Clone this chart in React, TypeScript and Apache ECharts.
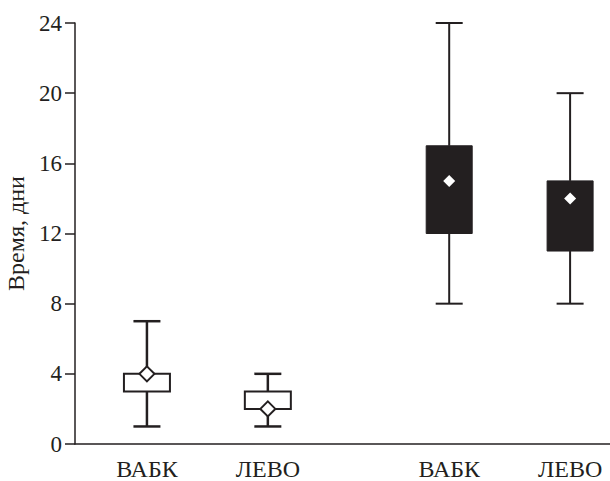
import React, { useEffect, useRef } from "react";
import * as echarts from "echarts";

const categories = ["ВАБК", "ЛЕВО", "ВАБК", "ЛЕВО"];
const positions = [1, 2, 3.5, 4.5];
const whiskerLow = [1, 1, 8, 8];
const boxLow = [3, 2, 12, 11];
const boxHigh = [4, 3, 17, 15];
const whiskerHigh = [7, 4, 24, 20];
const means = [4, 2, 15, 14];
const filled = [0, 0, 1, 1];
const yTicks = [0, 4, 8, 12, 16, 20, 24];

const INK = "#231f20";
const FONT = "'Liberation Serif', 'Times New Roman', serif";

export default function App() {
  const ref = useRef<HTMLDivElement>(null);

  useEffect(() => {
    if (!ref.current) return;
    const chart = echarts.init(ref.current, undefined, { renderer: "svg" });

    const data = positions.map((p, i) => [
      p,
      whiskerLow[i],
      boxLow[i],
      boxHigh[i],
      whiskerHigh[i],
      means[i],
      filled[i],
    ]);

    const renderItem = (params: any, api: any) => {
      const x = api.value(0);
      const lo = api.coord([x, api.value(1)]);
      const q1 = api.coord([x, api.value(2)]);
      const q3 = api.coord([x, api.value(3)]);
      const hi = api.coord([x, api.value(4)]);
      const mn = api.coord([x, api.value(5)]);
      const isFilled = api.value(6) === 1;
      const cx = lo[0];
      const boxHalf = 23;
      const capHalf = 13.5;
      const lw = isFilled ? 2 : 2.5;
      const lineStyle = { stroke: INK, lineWidth: lw };
      const d = isFilled ? 6 : 7.5;
      return {
        type: "group",
        children: [
          {
            type: "line",
            shape: { x1: cx, y1: lo[1], x2: cx, y2: q1[1] },
            style: lineStyle,
          },
          {
            type: "line",
            shape: { x1: cx, y1: q3[1], x2: cx, y2: hi[1] },
            style: lineStyle,
          },
          {
            type: "line",
            shape: { x1: cx - capHalf, y1: lo[1], x2: cx + capHalf, y2: lo[1] },
            style: lineStyle,
          },
          {
            type: "line",
            shape: { x1: cx - capHalf, y1: hi[1], x2: cx + capHalf, y2: hi[1] },
            style: lineStyle,
          },
          {
            type: "rect",
            shape: {
              x: cx - boxHalf,
              y: q3[1],
              width: boxHalf * 2,
              height: q1[1] - q3[1],
            },
            style: {
              fill: isFilled ? INK : "#ffffff",
              stroke: INK,
              lineWidth: isFilled ? 1 : 2,
            },
          },
          {
            type: "polygon",
            shape: {
              points: [
                [cx, mn[1] - d],
                [cx + d, mn[1]],
                [cx, mn[1] + d],
                [cx - d, mn[1]],
              ],
            },
            style: {
              fill: "#ffffff",
              stroke: isFilled ? "none" : INK,
              lineWidth: isFilled ? 0 : 2,
            },
          },
        ],
      };
    };

    chart.setOption({
      animation: false,
      backgroundColor: "#ffffff",
      grid: {
        left: 75,
        right: 0,
        top: 23,
        bottom: 37,
        containLabel: false,
        outerBoundsMode: "none",
      },
      xAxis: {
        type: "value",
        min: 0.405,
        max: 4.83,
        axisLine: { show: true, onZero: false, lineStyle: { color: INK, width: 1.5 } },
        axisTick: { show: false },
        splitLine: { show: false },
        axisLabel: {
          customValues: positions,
          formatter: (v: number) => {
            const i = positions.indexOf(v);
            return i >= 0 ? categories[i] : "";
          },
          fontFamily: FONT,
          fontSize: 24,
          color: INK,
          margin: 13,
        },
      },
      yAxis: {
        type: "value",
        min: 0,
        max: 24,
        interval: 4,
        name: "Время, дни",
        nameLocation: "middle",
        nameGap: 47,
        nameTextStyle: {
          fontFamily: FONT,
          fontSize: 24,
          color: INK,
        },
        axisLine: { show: true, lineStyle: { color: INK, width: 1.5 } },
        axisTick: { show: true, length: 10, lineStyle: { color: INK, width: 1.5 } },
        splitLine: { show: false },
        axisLabel: {
          customValues: yTicks,
          fontFamily: FONT,
          fontSize: 23,
          color: INK,
          margin: 13,
        },
      },
      series: [
        {
          type: "custom",
          renderItem,
          data,
          clip: false,
          encode: { x: 0, y: [1, 2, 3, 4, 5] },
        },
      ],
    });

    return () => chart.dispose();
  }, []);

  return (
    <div
      ref={ref}
      style={{ position: "absolute", left: 0, top: 0, width: 610, height: 481 }}
    />
  );
}
